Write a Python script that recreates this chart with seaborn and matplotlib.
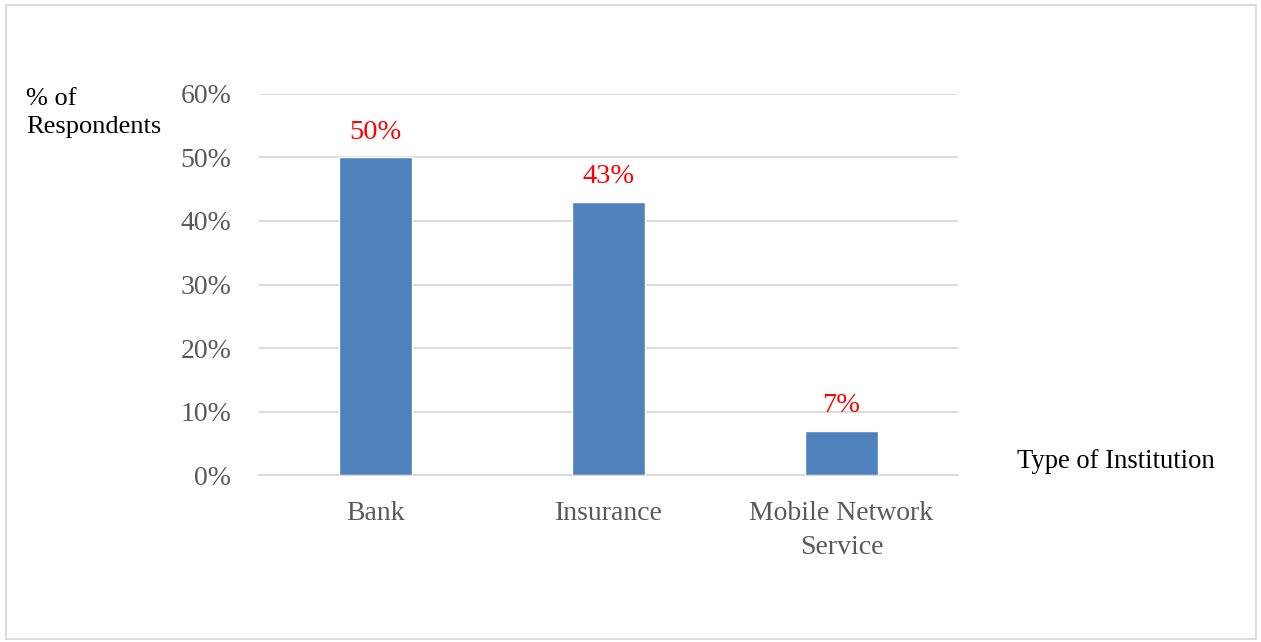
import matplotlib
matplotlib.use("Agg")
import matplotlib.pyplot as plt
import seaborn as sns
import pandas as pd
from matplotlib.patches import Rectangle

categories = ["Bank", "Insurance", "Mobile Network\nService"]
values = [50, 43, 7]
value_labels = ["50%", "43%", "7%"]
yticks = [0, 10, 20, 30, 40, 50, 60]
ytick_labels = ["0%", "10%", "20%", "30%", "40%", "50%", "60%"]

sns.set_theme(style="white")
plt.rcParams['font.family'] = ['Liberation Serif', 'DejaVu Serif']

df = pd.DataFrame({"cat": categories, "val": values})

fig = plt.figure(figsize=(12.61, 6.42), dpi=100)
ax = fig.add_axes([0.2054, 0.2601, 0.5543, 0.5935])

sns.barplot(data=df, x="cat", y="val", color="#4F81BD", width=0.31, ax=ax, saturation=1, zorder=3)

ax.set_ylim(0, 60)
ax.set_xlim(-0.5, 2.5)
ax.set_yticks(yticks)
ax.set_yticklabels(ytick_labels)
ax.yaxis.grid(True, color="#D9D9D9", linewidth=1.3, zorder=0)
ax.set_axisbelow(True)
for s in ["top", "right", "left"]:
    ax.spines[s].set_visible(False)
ax.spines["bottom"].set_color("#D9D9D9")
ax.spines["bottom"].set_linewidth(1.3)
ax.tick_params(axis="both", length=0, labelsize=20, labelcolor="#595959")
ax.tick_params(axis="y", pad=20)
ax.tick_params(axis="x", pad=19)
for t in ax.get_xticklabels():
    t.set_linespacing(1.45)
ax.set_xlabel("")
ax.set_ylabel("")

for i, (v, lab) in enumerate(zip(values, value_labels)):
    ax.annotate(lab, xy=(i, v), xytext=(0, 9), textcoords="offset points",
                ha="center", va="bottom", color="#FF0000", fontsize=20.5)

fig.text(26 / 1261, 1 - 113 / 642, "% of\nRespondents", ha="left", va="center",
         fontsize=19, color="black", linespacing=1.36)
fig.text(1017 / 1261, 1 - 462 / 642, "Type of Institution", ha="left", va="center",
         fontsize=19.2, color="black")

fig.patches.append(Rectangle((6 / 1261, 3 / 642), 1250 / 1261, 634 / 642,
                             transform=fig.transFigure, fill=False,
                             edgecolor="#D9D9D9", linewidth=1.3))

fig.savefig("out.png", dpi=100, facecolor="white")
